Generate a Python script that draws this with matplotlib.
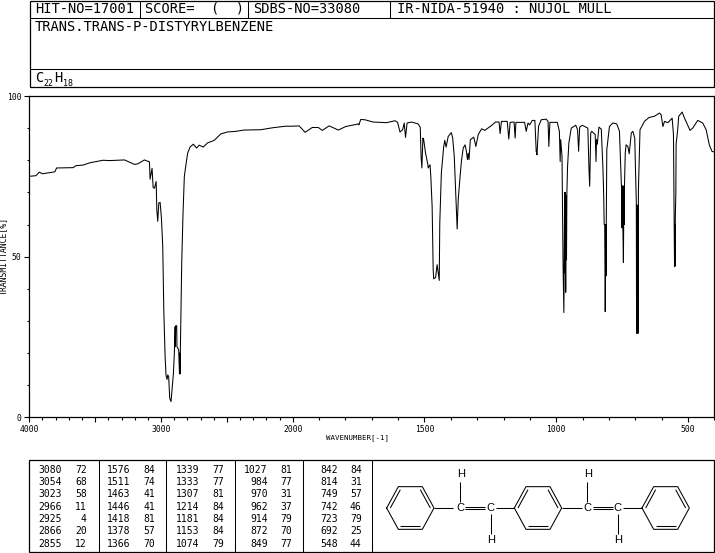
import numpy as np
import matplotlib
matplotlib.use("Agg")
import matplotlib.pyplot as plt
from matplotlib.patches import Rectangle

FONT = "DejaVu Sans Mono"

wavenumber = [4000, 3950, 3924, 3899, 3806, 3793, 3667, 3647, 3592, 3541, 3441, 3390, 3277, 3201, 3176, 3126,
              3088, 3083, 3068, 3060, 3050, 3037, 3032, 3025, 3017, 3007, 2997, 2987, 2979, 2969, 2962, 2954,
              2949, 2942, 2934, 2924, 2916, 2906, 2899, 2893, 2891, 2889, 2881, 2879, 2866, 2860, 2858, 2856,
              2851, 2843, 2833, 2823, 2811, 2798, 2780, 2755, 2730, 2710, 2680, 2647, 2596, 2546, 2496, 2433,
              2370, 2244, 2155, 2055, 2000, 1976, 1953, 1926, 1903, 1888, 1862, 1827, 1799, 1751, 1749, 1742,
              1726, 1695, 1644, 1612, 1602, 1593, 1583, 1577, 1572, 1566, 1549, 1524, 1516, 1513, 1510, 1506,
              1503, 1496, 1487, 1486, 1479, 1476, 1471, 1467, 1465, 1458, 1452, 1444, 1442, 1436, 1427, 1423,
              1418, 1410, 1398, 1393, 1387, 1381, 1376, 1372, 1366, 1360, 1353, 1346, 1341, 1337, 1334, 1331,
              1326, 1313, 1305, 1296, 1283, 1271, 1246, 1230, 1217, 1213, 1208, 1186, 1180, 1175, 1160, 1156,
              1153, 1145, 1120, 1114, 1107, 1101, 1091, 1081, 1076, 1073, 1067, 1057, 1038, 1031, 1028, 1024,
              1019, 996, 988, 985, 983, 978, 974, 971, 969.5, 968, 967, 965.5, 964, 962.5, 961, 959.5,
              957, 952, 943, 926, 919, 915, 911, 901, 880, 876, 873, 869, 865, 852, 849, 847,
              844, 838, 829, 823, 820, 818, 816, 814, 813, 812, 811, 810, 808, 798, 785, 770,
              760, 752, 751, 750, 749, 748, 747, 745, 744, 743, 742, 741, 738, 735, 728, 723,
              715, 709, 702, 696, 695, 694, 693, 692, 691, 690, 689, 688, 682, 665, 648, 627,
              608, 602, 595, 589, 576, 560, 555, 552, 551, 550, 549, 548, 546, 545, 539, 535,
              522, 513, 492, 482, 463, 444, 431, 419, 409, 402]
transmittance = [75.0, 75.2, 76.3, 75.8, 76.4, 77.6, 77.7, 78.3, 78.5, 79.2, 80.0, 79.9, 80.1, 78.7, 78.9, 80.1,
                 79.5, 74.1, 77.5, 71.5, 71.3, 73.4, 64.6, 61.0, 66.7, 66.9, 62.0, 53.2, 33.4, 18.9, 12.9, 11.8,
                 13.2, 12.7, 5.9, 4.9, 9.0, 13.7, 19.9, 28.2, 22.0, 28.5, 28.5, 22.0, 21.0, 13.5, 20.0, 13.5,
                 26.2, 48.0, 63.6, 75.0, 78.6, 82.2, 84.1, 85.0, 83.8, 84.7, 84.1, 85.4, 86.2, 88.2, 88.8, 89.0,
                 89.4, 89.5, 90.1, 90.6, 90.6, 90.7, 88.7, 90.2, 90.2, 89.3, 90.7, 89.4, 90.5, 91.3, 91.0, 92.7,
                 92.6, 91.9, 91.7, 92.3, 91.8, 88.8, 89.5, 91.6, 87.1, 91.6, 91.9, 91.3, 90.2, 81.2, 77.6, 86.9,
                 86.4, 82.2, 78.6, 77.6, 78.6, 75.0, 65.6, 45.9, 43.1, 43.5, 47.5, 42.6, 60.4, 76.0, 84.3, 86.2,
                 84.1, 87.4, 88.6, 86.9, 81.2, 68.7, 58.6, 67.7, 73.9, 79.6, 83.8, 84.8, 82.8, 80.2, 82.2, 80.2,
                 86.4, 87.2, 84.3, 88.0, 89.8, 89.3, 90.8, 91.9, 91.9, 88.3, 92.1, 92.1, 86.6, 91.8, 91.9, 86.9,
                 91.8, 91.8, 91.8, 89.0, 91.6, 91.0, 92.4, 92.4, 82.8, 81.7, 90.6, 92.6, 92.8, 92.1, 84.3, 91.8,
                 91.8, 91.8, 89.0, 79.6, 86.4, 81.2, 47.0, 32.6, 49.0, 70.0, 45.0, 70.0, 38.9, 69.0, 49.0, 70.0,
                 78.0, 85.4, 90.0, 90.9, 89.5, 82.8, 90.3, 90.9, 90.0, 78.1, 71.9, 88.5, 89.0, 88.0, 79.6, 86.4,
                 85.0, 90.3, 89.7, 78.1, 70.0, 60.0, 60.0, 32.9, 44.0, 60.0, 44.0, 60.0, 83.3, 90.5, 91.6, 91.3,
                 89.0, 70.8, 59.0, 72.0, 59.0, 72.0, 59.0, 48.2, 60.0, 72.0, 60.0, 72.0, 82.2, 84.8, 84.3, 82.0,
                 88.5, 89.0, 86.9, 66.7, 26.2, 66.0, 26.2, 66.0, 26.2, 66.0, 26.2, 70.8, 89.5, 92.1, 93.3, 93.7,
                 94.7, 94.2, 90.5, 92.1, 91.7, 93.1, 88.0, 60.0, 46.9, 60.0, 47.0, 62.0, 70.0, 85.0, 89.5, 93.7,
                 95.0, 93.1, 89.3, 90.0, 92.4, 91.6, 89.5, 84.8, 82.8, 82.6]

x_major = [4000, 3500, 3000, 2500, 2000, 1500, 1000, 500]
x_labels = ["4000", "", "3000", "", "2000", "1500", "1000", "500"]
y_major = [0, 50, 100]
y_labels = ["0", "50", "100"]

peak_wave = [[3080, 3054, 3023, 2966, 2925, 2866, 2855],
             [1576, 1511, 1463, 1446, 1418, 1378, 1366],
             [1339, 1333, 1307, 1214, 1181, 1153, 1074],
             [1027, 984, 970, 962, 914, 872, 849],
             [842, 814, 749, 742, 723, 692, 548]]
peak_trans = [[72, 68, 58, 11, 4, 20, 12],
              [84, 74, 41, 41, 81, 57, 70],
              [77, 77, 81, 84, 84, 84, 79],
              [81, 77, 31, 37, 79, 70, 77],
              [84, 31, 57, 46, 79, 25, 44]]


# the wavenumber axis is twice as compressed above 2000
def forward(w):
    w = np.asarray(w, dtype=float)
    return np.where(w > 2000, 2000 + (w - 2000) / 2, w)


def inverse(u):
    u = np.asarray(u, dtype=float)
    return np.where(u > 2000, 2000 + (u - 2000) * 2, u)


fig = plt.figure(figsize=(7.15, 5.53), dpi=100)

# spectrum
ax = fig.add_axes([29.3 / 715, (553 - 417.3) / 553, 685 / 715, 321.3 / 553])
ax.set_xscale("function", functions=(forward, inverse))
ax.plot(wavenumber, transmittance, color="black", lw=0.75)
ax.set_xticks(x_major, x_labels, fontsize=5.8, family=FONT)
ax.set_xticks(np.arange(400, 4000, 100), minor=True)
ax.set_yticks(y_major, y_labels, fontsize=5.8, family=FONT)
ax.set_yticks(np.arange(0, 101, 10), minor=True)
ax.set_xlim(4000, 400)
ax.set_ylim(0, 100)
ax.tick_params(which="major", length=3.6, width=0.8, pad=2)
ax.tick_params(which="minor", length=1.8, width=0.8)
for s in ax.spines.values():
    s.set_linewidth(0.9)

# everything around the spectrum, placed in image pixels
pg = fig.add_axes([0, 0, 1, 1], zorder=-1)
pg.set_xlim(0, 715)
pg.set_ylim(553, 0)
pg.axis("off")


def box(x0, y0, x1, y1):
    pg.add_patch(Rectangle((x0, y0), x1 - x0, y1 - y0, fill=False, ec="black", lw=0.9, clip_on=False))


def label(x, y, s, size=9.9, ha="left", font=FONT, **kw):
    pg.text(x, y, s, fontsize=size, family=font, ha=ha, va="center", color="black", **kw)


def seg(x0, y0, x1, y1):
    pg.plot([x0, x1], [y0, y1], color="black", lw=0.75, solid_capstyle="butt")


box(29.5, 0.5, 713.7, 87.3)
seg(29.5, 18, 713.7, 18)
seg(29.5, 69.3, 713.7, 69.3)
for x in [140, 248, 390]:
    seg(x, 0.5, x, 18)
label(35, 9, "HIT-NO=17001")
label(145, 9, "SCORE=  (  )")
label(253, 9, "SDBS-NO=33080")
label(397, 9, "IR-NIDA-51940 : NUJOL MULL")
label(35, 27, "TRANS.TRANS-P-DISTYRYLBENZENE")
label(35, 78, "C")
label(43.5, 83, "22", size=6)
label(54, 78, "H")
label(63, 83, "18", size=6)

label(358, 437.5, "WAVENUMBER[-1]", size=5.3, ha="center")
label(3.5, 256, "TRANSMITTANCE[%]", size=5.9, ha="center", rotation=90)

# peak table
box(29.3, 460.3, 713.7, 552)
for x in [98.7, 166.3, 235.3, 303.3, 372.3]:
    seg(x, 460.3, x, 552)
wave_right = [62.3, 130.3, 199, 267.7, 338]
trans_right = [86.7, 155.3, 224, 292.3, 361.7]
row_y = [470, 482, 494.3, 506.7, 518.7, 531, 543.7]
for c in range(5):
    for r in range(7):
        label(wave_right[c], row_y[r], str(peak_wave[c][r]), size=7.0, ha="right")
        label(trans_right[c], row_y[r], str(peak_trans[c][r]), size=7.0, ha="right")


# structure, sketch coordinates are 3x image pixels from the table corner
def sx(z):
    return 370 + z / 3


def sy(z):
    return 450 + z / 3


def ring(cx):
    cy = 174
    vx = [cx - 71, cx - 36, cx + 36, cx + 71, cx + 36, cx - 36, cx - 71]
    vy = [cy, cy - 64, cy - 64, cy, cy + 64, cy + 64, cy]
    pg.plot([sx(v) for v in vx], [sy(v) for v in vy], color="black", lw=0.75)
    seg(sx(cx - 60), sy(cy), sx(cx - 30), sy(cy - 55))
    seg(sx(cx + 60), sy(cy), sx(cx + 30), sy(cy - 55))
    seg(sx(cx - 30), sy(cy + 55), sx(cx + 30), sy(cy + 55))


for cx in [121, 504, 887]:
    ring(cx)
for x0, x1 in [(192, 250), (378, 433), (575, 637), (760, 815)]:
    seg(sx(x0), sy(174), sx(x1), sy(174))
for x0 in [285, 668]:
    seg(sx(x0), sy(170), sx(x0 + 60), sy(170))
    seg(sx(x0), sy(178), sx(x0 + 60), sy(178))
for x in [270, 652]:
    seg(sx(x), sy(95), sx(x), sy(155))
    label(sx(x + 2), sy(73), "H", size=8, ha="center", font="Liberation Sans")
    label(sx(x), sy(173), "C", size=8, ha="center", font="Liberation Sans")
for x in [362, 743]:
    seg(sx(x), sy(192), sx(x), sy(252))
    label(sx(x + 2), sy(270), "H", size=8, ha="center", font="Liberation Sans")
    label(sx(x), sy(173), "C", size=8, ha="center", font="Liberation Sans")

fig.savefig("out.png", dpi=100)
